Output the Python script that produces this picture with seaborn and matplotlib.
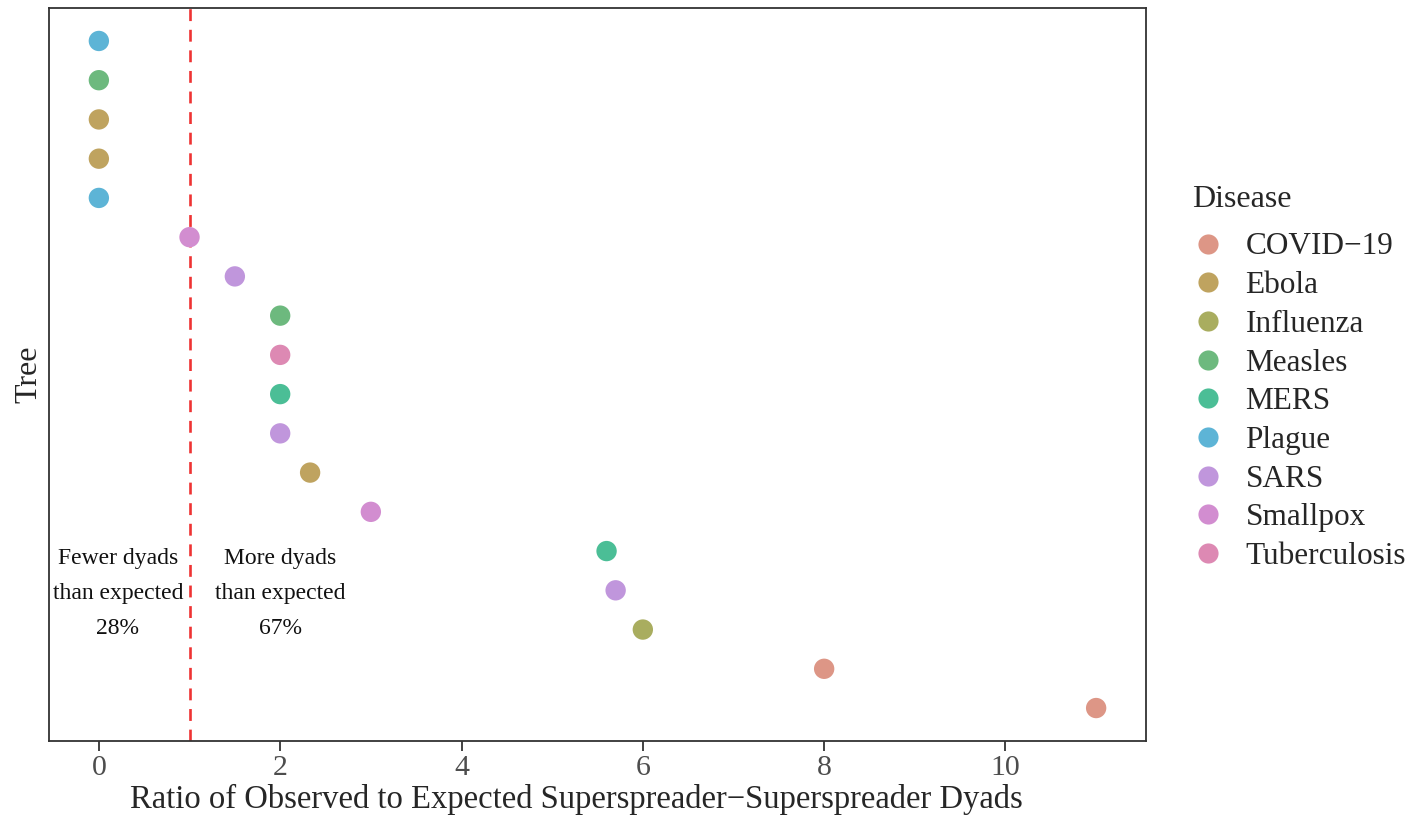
import matplotlib
matplotlib.use("Agg")
import matplotlib.pyplot as plt
import seaborn as sns
import pandas as pd

# One row per transmission tree, ordered from top to bottom
tree_rank = list(range(1, 19))
disease = ["Plague", "Measles", "Ebola", "Ebola", "Plague", "Smallpox",
           "SARS", "Measles", "Tuberculosis", "MERS", "SARS", "Ebola",
           "Smallpox", "MERS", "SARS", "Influenza", "COVID-19", "COVID-19"]
ratio = [0, 0, 0, 0, 0, 1.0, 1.5, 2.0, 2.0, 2.0, 2.0, 2.33, 3.0,
         5.6, 5.7, 6.0, 8.0, 11.0]

disease_order = ["COVID-19", "Ebola", "Influenza", "Measles", "MERS",
                 "Plague", "SARS", "Smallpox", "Tuberculosis"]
disease_colors = ["#DD9686", "#BFA35F", "#A9AD5F", "#6DB97E", "#4BBE96",
                  "#5DB4D6", "#C096DC", "#D28DD0", "#DD89B3"]
legend_labels = ["COVID\u221219", "Ebola", "Influenza", "Measles", "MERS",
                 "Plague", "SARS", "Smallpox", "Tuberculosis"]

ref_ratio = 1.0
left_note = "Fewer dyads\nthan expected\n28%"
right_note = "More dyads\nthan expected\n67%"

df = pd.DataFrame({"Tree": tree_rank, "Disease": disease, "Ratio": ratio})

sns.set_theme(style="white")
plt.rcParams["font.family"] = ["Liberation Serif", "DejaVu Serif"]

fig = plt.figure(figsize=(14.24, 8.18), dpi=100)
ax = fig.add_axes([49 / 1424, 1 - 741 / 818, (1146 - 49) / 1424, (741 - 8) / 818])

palette = dict(zip(disease_order, disease_colors))
sns.scatterplot(data=df, x="Ratio", y="Tree", hue="Disease",
                hue_order=disease_order, palette=palette, s=215,
                linewidth=0, ax=ax, legend=False, zorder=3)

ax.axvline(ref_ratio, color="#EE3333", linestyle=(0, (4.5, 3.3)),
           linewidth=1.9, zorder=2)

ax.text(0.21, 15.08, left_note, ha="center", va="center", fontsize=17,
        linespacing=1.87, color="#111111")
ax.text(2.0, 15.08, right_note, ha="center", va="center", fontsize=17,
        linespacing=1.87, color="#111111")

ax.set_xlim(-0.55, 11.55)
ax.set_ylim(18.84, 0.16)
ax.set_xticks([0, 2, 4, 6, 8, 10])
ax.set_yticks([])
ax.tick_params(axis="x", which="both", bottom=True, length=7, width=1.3,
               color="#333333", labelsize=21.5, labelcolor="#4D4D4D", pad=3)
ax.set_xlabel("Ratio of Observed to Expected Superspreader\u2212Superspreader Dyads",
              fontsize=23.5, labelpad=2)
ax.xaxis.label.set_x(0.481)
ax.set_ylabel("Tree", fontsize=23, labelpad=4)
for sp in ax.spines.values():
    sp.set_color("#333333")
    sp.set_linewidth(1.3)

handles = [plt.Line2D([], [], marker="o", linestyle="", markersize=14.5,
                      markerfacecolor=c, markeredgewidth=0)
           for c in disease_colors]
leg = ax.legend(handles, legend_labels, title="Disease", loc="center left",
                bbox_to_anchor=(1.028, 0.495), frameon=False, fontsize=22.5,
                title_fontsize=23, labelspacing=0.31, handletextpad=0.7,
                handlelength=1.0, borderpad=0)
leg._legend_box.align = "left"
leg._legend_box.sep = 13

fig.savefig("out.png", dpi=100)
